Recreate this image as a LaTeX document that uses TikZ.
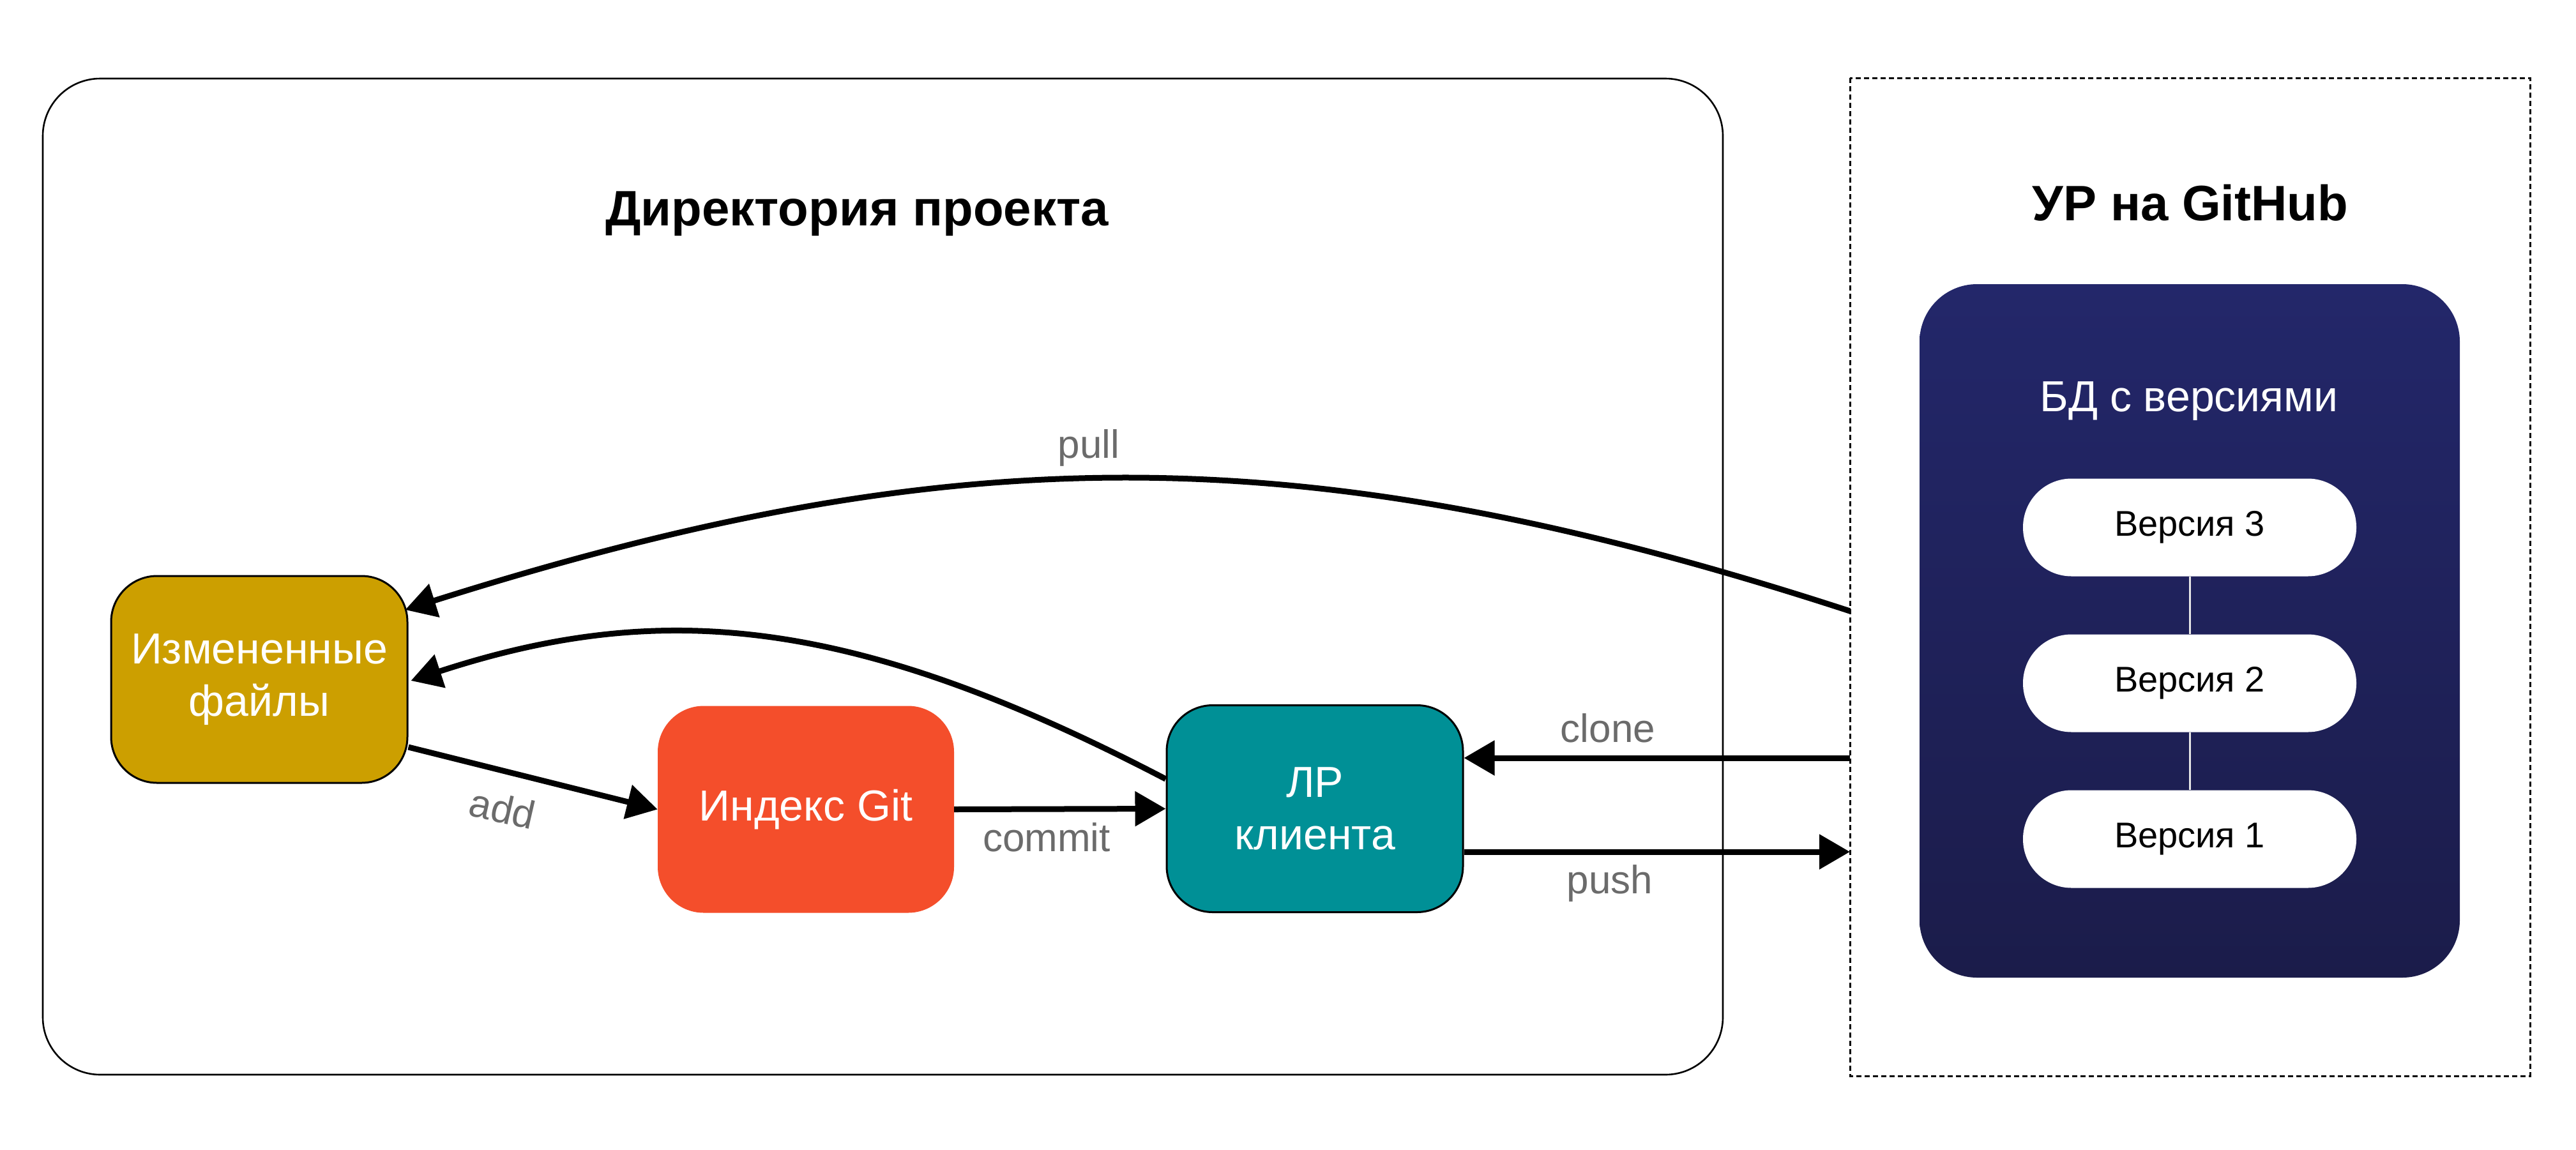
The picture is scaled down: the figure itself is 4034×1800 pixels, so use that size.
\documentclass[tikz,border=0pt]{standalone}
\usepackage{fontspec}
\setmainfont{Liberation Sans}
\usetikzlibrary{arrows.meta,calc}
\definecolor{goldbox}{HTML}{CC9F00}
\definecolor{orangebox}{HTML}{F44E2B}
\definecolor{tealbox}{HTML}{009096}
\definecolor{navytop}{HTML}{23276A}
\definecolor{navybot}{HTML}{1B1C4A}
\definecolor{lblgray}{HTML}{6B6B6B}
\definecolor{vlinecol}{HTML}{E6E6E6}
\tikzset{
  stagebox/.style={rectangle, align=center, text=white, inner sep=0pt,
    minimum width=464pt, minimum height=324pt, rounded corners=72pt,
    font=\fontsize{68}{82}\selectfont},
  conn/.style={line width=9pt, -{Triangle[length=48pt,width=53pt]}},
  lbl/.style={text=lblgray, font=\fontsize{62}{74}\selectfont, anchor=base, inner sep=0pt},
  pill/.style={rectangle, fill=white, rounded corners=76pt, minimum width=522pt,
    minimum height=153pt, inner sep=0pt, font=\fontsize{56}{66}\selectfont},
  vline/.style={draw=vlinecol, line width=3pt},
  frameline/.style={draw=black, line width=2.6pt},
  titletxt/.style={font=\fontsize{78}{90}\selectfont\bfseries, anchor=base, inner sep=0pt}
}
\begin{document}
\begin{tikzpicture}[x=1pt,y=-1pt]
\useasboundingbox[fill=white] (0,0) rectangle (4034,1800);

% frames
\draw[frameline, rounded corners=90pt] (67,123) rectangle (2698,1683);
\draw[draw=black, line width=3pt, dash pattern=on 8pt off 5pt] (2897,122) rectangle (3962,1685);

% titles
\node[titletxt] (ttlproj) at (1342,353) {Директория проекта};
\node[titletxt] (ttlgh) at (3430,345) {УР на GitHub};

% database box
\path[top color=navytop, bottom color=navybot, rounded corners=90pt] (3006,445) rectangle (3852,1531);
\node[text=white, font=\fontsize{68}{80}\selectfont, anchor=base, inner sep=0pt] (dbt) at (3428,644) {БД с версиями};
\node[pill] (v3) at (3429,826) {Версия 3};
\node[pill] (v2) at (3429,1070) {Версия 2};
\node[pill] (v1) at (3429,1314) {Версия 1};
\draw[vline] (v3.south) -- (v2.north);
\draw[vline] (v2.south) -- (v1.north);

% stage nodes
\node[stagebox, fill=goldbox, draw=black, line width=3pt] (izm) at (406,1064) {Измененные\\файлы};
\node[stagebox, fill=orangebox] (idx) at (1262,1267.5) {Индекс Git};
\node[stagebox, fill=tealbox, draw=black, line width=3pt] (lr) at (2059,1266.5) {ЛР\\клиента};

% connector ends on the remote frame
\coordinate (pullS) at (2897,957);
\coordinate (cloneS) at (2897,1187);
\coordinate (pushE) at (2897,1334);

% connectors
\draw[conn] ([yshift=-106pt]izm.east) -- (idx.west);
\draw[conn] (idx.east) -- (lr.west);
\draw[conn] (cloneS) -- ([yshift=79.5pt]lr.east);
\draw[conn] ([yshift=-67.5pt]lr.east) -- (pushE);
\draw[conn] (pullS) .. controls (2050,681) and (1500,681) .. ([xshift=-5pt,yshift=109pt]izm.east);
\draw[conn] ([yshift=46.5pt]lr.west) .. controls (1335,964) and (1035,938) .. ([xshift=4pt,yshift=-2pt]izm.east);

% labels
\node[lbl, rotate=-13] (ladd) at (782,1288) {add};
\node[lbl] (lcommit) at (1639,1333) {commit};
\node[lbl] (lclone) at (2518,1162) {clone};
\node[lbl] (lpush) at (2521,1399) {push};
\node[lbl] (lpull) at (1705,717) {pull};
\end{tikzpicture}
\end{document}
